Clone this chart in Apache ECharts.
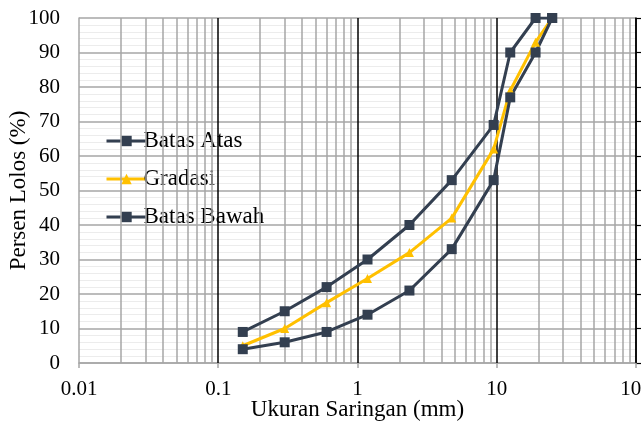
<!DOCTYPE html>
<html><head><meta charset="utf-8">
<script src="https://cdn.jsdelivr.net/npm/echarts@6/dist/echarts.min.js"></script>
<style>html,body{margin:0;padding:0;background:#fff}#c{width:642px;height:421px}</style>
</head><body><div id="c"></div>
<script>
const sieves = [0.15, 0.3, 0.6, 1.18, 2.36, 4.75, 9.5, 12.5, 19, 25];
const batasAtas = [9, 15, 22, 30, 40, 53, 69, 90, 100, 100];
const gradasi = [5, 10, 17.5, 24.5, 32, 42, 62, 79, 93, 100];
const batasBawah = [4, 6, 9, 14, 21, 33, 53, 77, 90, 100];
const xTicks = [0.01, 0.1, 1, 10, 100];
const decades = [0.01, 0.1, 1, 10];
const minorX = [];
decades.forEach(d => { for (let k = 2; k <= 9; k++) minorX.push(+(k * d).toPrecision(3)); });
const majorX = [0.1, 1, 10, 100];

const dark = '#333f50', gold = '#ffc000';
const font = 'Liberation Serif';
const pair = (ys) => sieves.map((x, i) => [x, ys[i]]);

const chart = echarts.init(document.getElementById('c'));
chart.setOption({
  animation: false,
  grid: { left: 79, right: 6, top: 18, bottom: 58, containLabel: false, outerBoundsMode: 'none' },
  legend: {
    orient: 'vertical', left: 100, top: 123, itemGap: 12,
    itemWidth: 40, itemHeight: 13,
    lineStyle: { width: 3 },
    textStyle: { fontFamily: font, fontSize: 23, color: '#000', padding: [0, 0, 0, -8], lineHeight: 26 },
    data: [
      { name: 'Batas Atas' },
      { name: 'Gradasi' },
      { name: 'Batas Bawah' }
    ]
  },
  xAxis: {
    type: 'log', logBase: 10, min: 0.01, max: 100,
    name: 'Ukuran Saringan (mm)', nameLocation: 'middle', nameGap: 35, nameMoveOverlap: false,
    nameTextStyle: { fontFamily: font, fontSize: 23, color: '#000' },
    axisLine: { show: true, lineStyle: { color: '#a6a6a6', width: 1.5 } },
    axisTick: { show: true, length: 5, lineStyle: { color: '#a6a6a6', width: 1.5 } },
    axisLabel: { fontFamily: font, fontSize: 21, color: '#000', margin: 16,
      formatter: v => String(+(+v).toPrecision(3)) },
    splitLine: { show: false }
  },
  yAxis: [{
    type: 'value', min: 0, max: 100, interval: 10,
    name: 'Persen Lolos (%)', nameLocation: 'middle', nameGap: 49, nameMoveOverlap: false,
    nameTextStyle: { fontFamily: font, fontSize: 23, color: '#000' },
    axisLine: { show: true, lineStyle: { color: '#a6a6a6', width: 1.5 } },
    axisTick: { show: false },
    axisLabel: { fontFamily: font, fontSize: 21, color: '#000', margin: 19 },
    splitLine: { show: true, lineStyle: { color: '#a6a6a6', width: 1.5 } },
    minorTick: { show: false, splitNumber: 5 },
    minorSplitLine: { show: true, lineStyle: { color: '#ececec', width: 1 } }
  }, {
    type: 'value', min: 0, max: 100, interval: 10, position: 'right',
    axisLine: { show: true, lineStyle: { color: '#000', width: 1.5 } },
    axisTick: { show: true, length: 5, lineStyle: { color: '#000', width: 1.2 } },
    axisLabel: { show: false }, splitLine: { show: false }
  }],
  series: [
    {
      name: 'grid-lines', type: 'line', data: [], silent: true, z: 1,
      markLine: {
        silent: true, symbol: 'none', label: { show: false }, animation: false,
        data: minorX.map(v => ({ xAxis: v, lineStyle: { color: '#a6a6a6', width: 1.5, type: 'solid' } }))
          .concat(majorX.map(v => ({ xAxis: v, lineStyle: { color: '#000', width: 1.5, type: 'solid' } })))
      }
    },
    {
      name: 'Batas Atas', type: 'line', data: pair(batasAtas), z: 5,
      symbol: 'rect', symbolSize: 10, lineStyle: { color: dark, width: 3 },
      itemStyle: { color: dark }
    },
    {
      name: 'Gradasi', type: 'line', data: pair(gradasi), z: 5,
      symbol: 'triangle', symbolSize: 9, lineStyle: { color: gold, width: 3 },
      itemStyle: { color: gold }
    },
    {
      name: 'Batas Bawah', type: 'line', data: pair(batasBawah), z: 5,
      symbol: 'rect', symbolSize: 10, lineStyle: { color: dark, width: 3 },
      itemStyle: { color: dark }
    }
  ]
});
</script></body></html>
